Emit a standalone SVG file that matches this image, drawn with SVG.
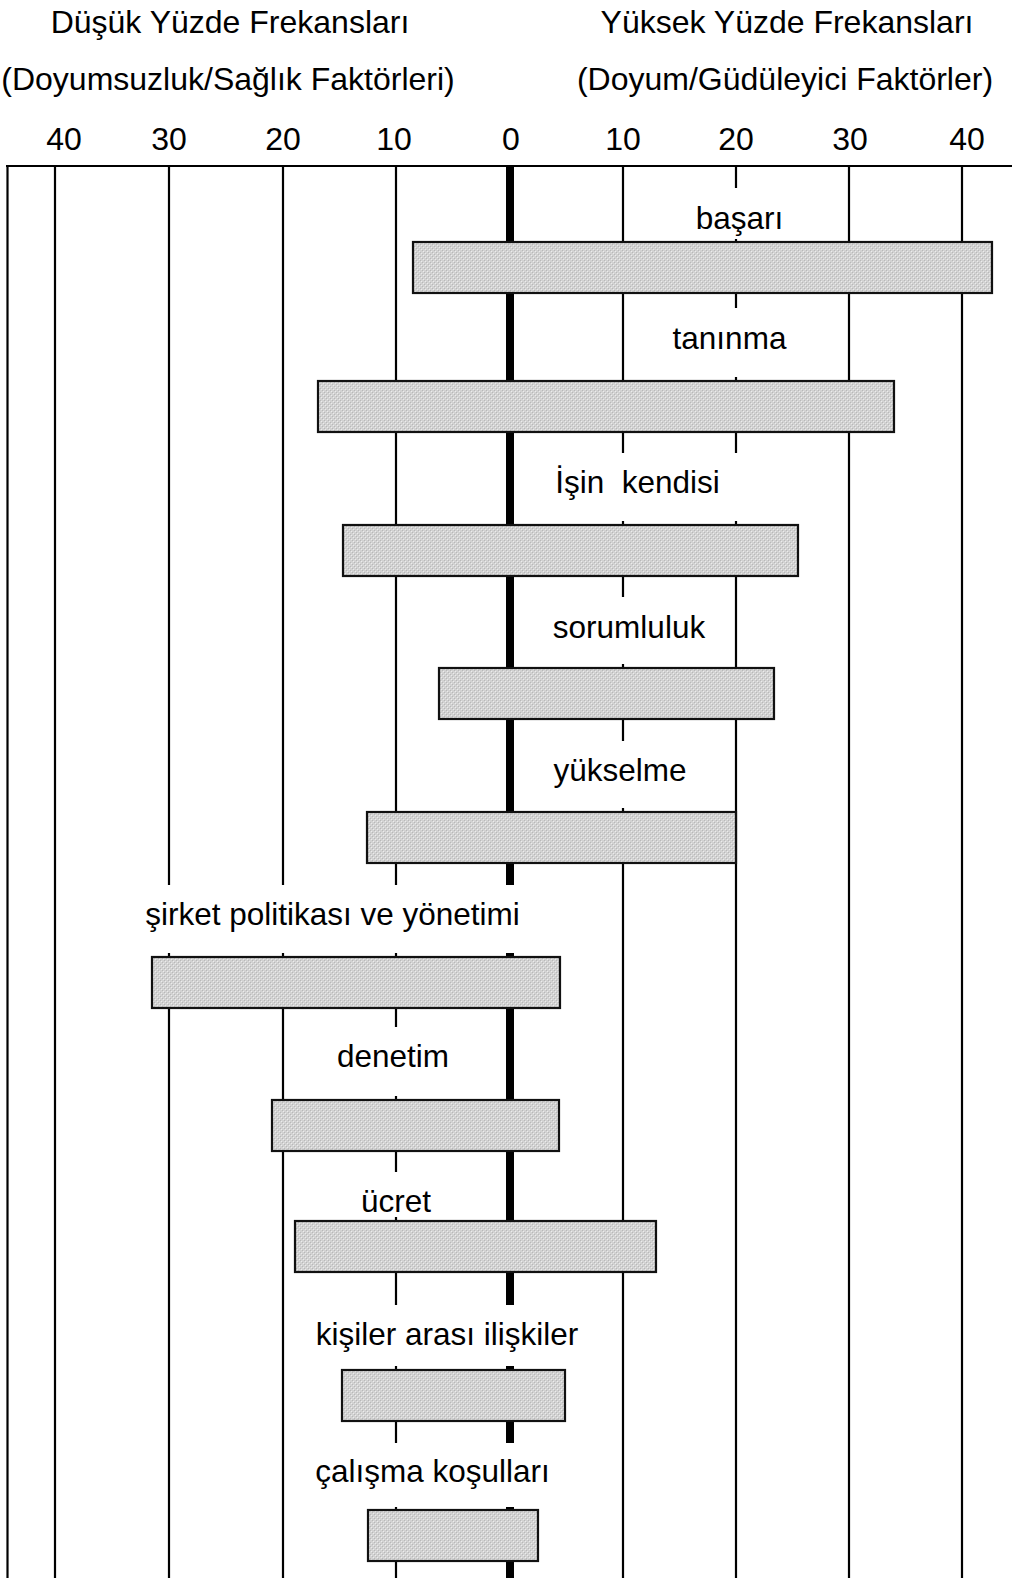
<svg xmlns="http://www.w3.org/2000/svg" width="1012" height="1578" viewBox="0 0 1012 1578">
  <style>
    text { font-family: "Liberation Sans", Arial, sans-serif; fill: #000; }
    .head { font-size: 32px; text-anchor: middle; }
    .tick { font-size: 32px; text-anchor: middle; }
    .lbl { font-size: 31.5px; text-anchor: middle; }
    .grid { stroke: #000; stroke-width: 2.2; fill: none; }
    .zero { stroke: #000; stroke-width: 8; fill: none; }
    .mask { fill: #fff; stroke: none; }
    .bar { fill: url(#stipple); stroke: #111; stroke-width: 2.2; }
  </style>
  <defs>
    <!-- light grey stipple used inside every bar -->
    <pattern id="stipple" width="4" height="4" patternUnits="userSpaceOnUse">
      <rect width="4" height="4" fill="#d2d2d2"/>
      <rect x="0" y="0" width="1" height="1" fill="#b8b8b8"/>
      <rect x="2" y="2" width="1" height="1" fill="#b8b8b8"/>
      <rect x="1" y="1" width="1" height="1" fill="#ececec"/>
      <rect x="3" y="3" width="1" height="1" fill="#ececec"/>
    </pattern>
  </defs>

  <rect width="1012" height="1578" fill="#fff"/>

  <!-- column headings -->
  <g id="headings">
    <text class="head" x="230" y="33">Düşük Yüzde Frekansları</text>
    <text class="head" x="228" y="90">(Doyumsuzluk/Sağlık Faktörleri)</text>
    <text class="head" x="787" y="33">Yüksek Yüzde Frekansları</text>
    <text class="head" x="785" y="90">(Doyum/Güdüleyici Faktörler)</text>
  </g>

  <!-- scale numbers -->
  <g id="scale">
    <text class="tick" x="64" y="150">40</text>
    <text class="tick" x="169" y="150">30</text>
    <text class="tick" x="283" y="150">20</text>
    <text class="tick" x="394" y="150">10</text>
    <text class="tick" x="511" y="150">0</text>
    <text class="tick" x="623" y="150">10</text>
    <text class="tick" x="736" y="150">20</text>
    <text class="tick" x="850" y="150">30</text>
    <text class="tick" x="967" y="150">40</text>
  </g>

  <!-- frame and grid -->
  <g id="connectors">
    <line class="grid" x1="6" y1="166" x2="1012" y2="166" stroke-width="3"/>
    <line class="grid" x1="7.5" y1="166" x2="7.5" y2="1578"/>
    <line class="grid" x1="55" y1="166" x2="55" y2="1578"/>
    <line class="grid" x1="169" y1="166" x2="169" y2="1578"/>
    <line class="grid" x1="283" y1="166" x2="283" y2="1578"/>
    <line class="grid" x1="396" y1="166" x2="396" y2="1578"/>
    <line class="zero" x1="510" y1="166" x2="510" y2="1578"/>
    <line class="grid" x1="623" y1="166" x2="623" y2="1578"/>
    <line class="grid" x1="736" y1="166" x2="736" y2="1578"/>
    <line class="grid" x1="849" y1="166" x2="849" y2="1578"/>
    <line class="grid" x1="962" y1="166" x2="962" y2="1578"/>
  </g>

  <!-- factors: white label box, label, bar -->
  <g id="basari">
    <rect class="mask" x="640" y="188" width="195" height="51"/>
    <text class="lbl" x="739.5" y="229">başarı</text>
    <rect class="bar" x="413" y="242" width="579" height="51"/>
  </g>
  <g id="taninma">
    <rect class="mask" x="660" y="308" width="140" height="69"/>
    <text class="lbl" x="729.5" y="349">tanınma</text>
    <rect class="bar" x="318" y="381" width="576" height="51"/>
  </g>
  <g id="isin-kendisi">
    <rect class="mask" x="540" y="453" width="205" height="68"/>
    <text class="lbl" x="637.5" y="493" xml:space="preserve">İşin  kendisi</text>
    <rect class="bar" x="343" y="525" width="455" height="51"/>
  </g>
  <g id="sorumluluk">
    <rect class="mask" x="545" y="597" width="167" height="67"/>
    <text class="lbl" x="629" y="638">sorumluluk</text>
    <rect class="bar" x="439" y="668" width="335" height="51"/>
  </g>
  <g id="yukselme">
    <rect class="mask" x="545" y="741" width="155" height="67"/>
    <text class="lbl" x="620" y="781">yükselme</text>
    <rect class="bar" x="367" y="812" width="369" height="51"/>
  </g>
  <g id="sirket-politikasi">
    <rect class="mask" x="138" y="885" width="390" height="68"/>
    <text class="lbl" x="332.5" y="925">şirket politikası ve yönetimi</text>
    <rect class="bar" x="152" y="957" width="408" height="51"/>
  </g>
  <g id="denetim">
    <rect class="mask" x="325" y="1027" width="135" height="69"/>
    <text class="lbl" x="393" y="1067">denetim</text>
    <rect class="bar" x="272" y="1100" width="287" height="51"/>
  </g>
  <g id="ucret">
    <rect class="mask" x="350" y="1172" width="92" height="45"/>
    <text class="lbl" x="396" y="1212">ücret</text>
    <rect class="bar" x="295" y="1221" width="361" height="51"/>
  </g>
  <g id="kisiler-arasi">
    <rect class="mask" x="305" y="1305" width="285" height="61"/>
    <text class="lbl" x="447" y="1345">kişiler arası ilişkiler</text>
    <rect class="bar" x="342" y="1370" width="223" height="51"/>
  </g>
  <g id="calisma-kosullari">
    <rect class="mask" x="305" y="1443" width="255" height="64"/>
    <text class="lbl" x="432.5" y="1482">çalışma koşulları</text>
    <rect class="bar" x="368" y="1510" width="170" height="51"/>
  </g>
</svg>
